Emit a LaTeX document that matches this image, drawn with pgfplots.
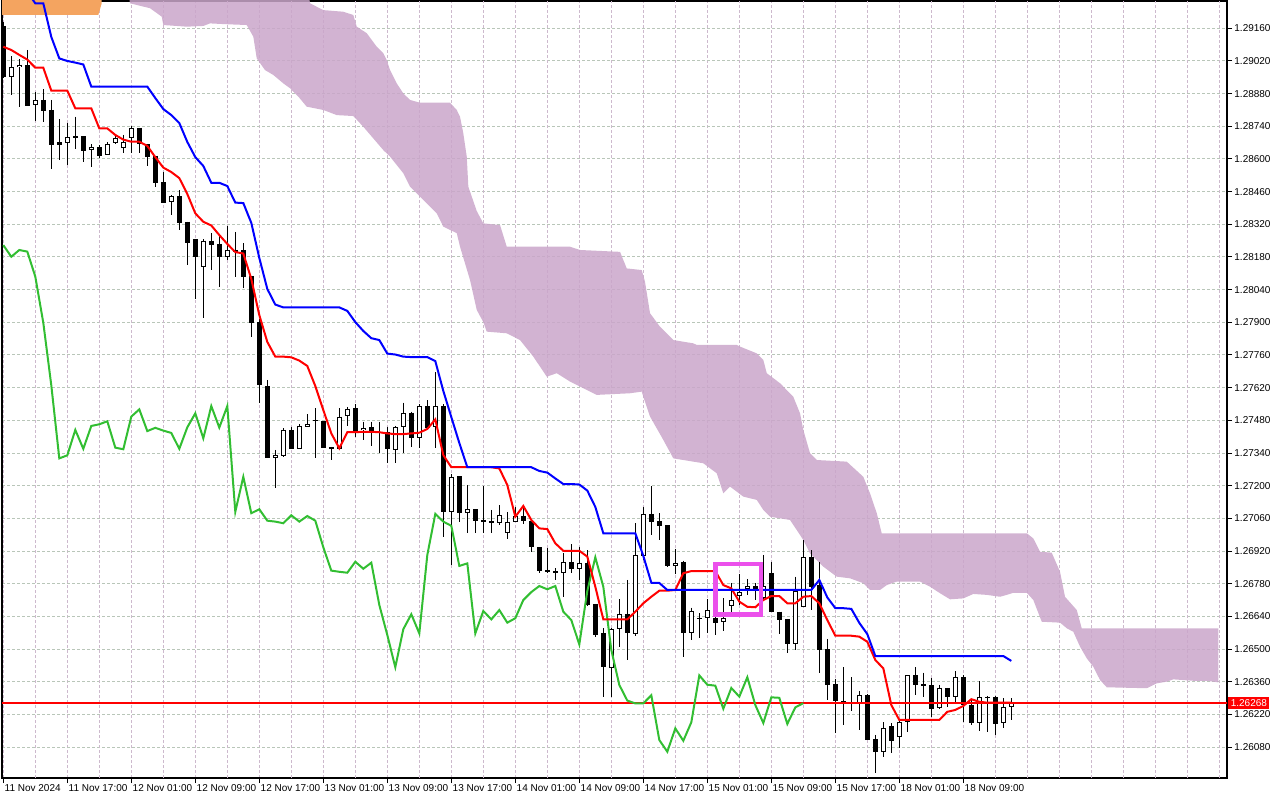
\documentclass[border=0pt]{standalone}
\usepackage{pgfplots}
\pgfplotsset{compat=1.18}
\usepackage{pgfplotstable}
\usepackage{fontspec}
\setmainfont{Liberation Sans}
\newcommand\tickfont{\fontsize{5}{6}\selectfont}
\definecolor{cloudc}{RGB}{202,166,202}
\definecolor{orangec}{RGB}{244,164,96}
\definecolor{ichired}{RGB}{255,0,0}
\definecolor{ichiblue}{RGB}{0,0,255}
\definecolor{ichigreen}{RGB}{50,190,50}
\definecolor{boxmag}{RGB}{235,80,235}
\definecolor{gridh}{RGB}{185,198,185}
\definecolor{gridv}{RGB}{205,185,205}

% bullish (white) candles: bar index, open, high, low, close
\pgfplotstableread{
k o h l c
1 1.28950 1.29041 1.28874 1.28993
2 1.28993 1.29027 1.28824 1.29003
4 1.28830 1.28886 1.28764 1.28853
7 1.28663 1.28771 1.28596 1.28671
8 1.28670 1.28755 1.28574 1.28693
11 1.28637 1.28664 1.28567 1.28650
13 1.28616 1.28673 1.28616 1.28663
14 1.28667 1.28703 1.28664 1.28691
15 1.28646 1.28703 1.28627 1.28674
16 1.28689 1.28741 1.28627 1.28731
21 1.28414 1.28446 1.28360 1.28441
25 1.28138 1.28256 1.27920 1.28250
28 1.28181 1.28313 1.28167 1.28210
34 1.27320 1.27353 1.27189 1.27330
35 1.27328 1.27446 1.27324 1.27439
37 1.27358 1.27464 1.27356 1.27456
38 1.27453 1.27506 1.27453 1.27463
42 1.27358 1.27532 1.27358 1.27496
43 1.27499 1.27538 1.27457 1.27527
45 1.27439 1.27474 1.27396 1.27448
49 1.27353 1.27456 1.27296 1.27450
50 1.27453 1.27556 1.27339 1.27510
52 1.27403 1.27550 1.27360 1.27541
54 1.27453 1.27687 1.27360 1.27541
56 1.27088 1.27250 1.26860 1.27238
58 1.27082 1.27203 1.26996 1.27099
62 1.27039 1.27117 1.27031 1.27073
63 1.26996 1.27088 1.26970 1.27046
64 1.27046 1.27110 1.27046 1.27070
70 1.26827 1.26910 1.26724 1.26874
72 1.26844 1.26938 1.26796 1.26870
76 1.26417 1.26589 1.26296 1.26585
77 1.26585 1.26713 1.26507 1.26649
79 1.26564 1.27039 1.26556 1.26903
80 1.26900 1.27110 1.26882 1.27079
84 1.26857 1.26929 1.26822 1.26867
86 1.26567 1.26677 1.26539 1.26663
88 1.26632 1.26713 1.26567 1.26667
90 1.26615 1.26717 1.26577 1.26632
91 1.26684 1.26783 1.26650 1.26710
92 1.26727 1.26822 1.26689 1.26744
93 1.26756 1.26799 1.26732 1.26770
95 1.26719 1.26903 1.26710 1.26770
99 1.26520 1.26810 1.26496 1.26749
100 1.26681 1.26967 1.26681 1.26893
107 1.26267 1.26320 1.26153 1.26302
110 1.26060 1.26186 1.26036 1.26160
112 1.26124 1.26199 1.26077 1.26186
113 1.26186 1.26387 1.26146 1.26387
117 1.26246 1.26346 1.26242 1.26333
119 1.26296 1.26405 1.26274 1.26379
122 1.26182 1.26362 1.26149 1.26293
125 1.26182 1.26289 1.26160 1.26250
126 1.26250 1.26289 1.26196 1.26268
}\bull

% bearish (black) candles
\pgfplotstableread{
k o h l c
0 1.29170 1.29187 1.28947 1.28951
3 1.29001 1.29067 1.28828 1.28828
5 1.28853 1.28899 1.28760 1.28807
6 1.28810 1.28853 1.28556 1.28661
9 1.28698 1.28781 1.28643 1.28691
10 1.28698 1.28698 1.28588 1.28635
12 1.28651 1.28659 1.28605 1.28613
17 1.28733 1.28733 1.28627 1.28664
18 1.28664 1.28664 1.28571 1.28610
19 1.28614 1.28614 1.28479 1.28498
20 1.28501 1.28545 1.28410 1.28410
22 1.28441 1.28467 1.28296 1.28327
23 1.28331 1.28331 1.28146 1.28239
24 1.28257 1.28257 1.28000 1.28179
26 1.28250 1.28282 1.28124 1.28231
27 1.28236 1.28274 1.28050 1.28181
29 1.28210 1.28288 1.28096 1.28203
30 1.28210 1.28239 1.28046 1.28096
31 1.28099 1.28099 1.27836 1.27898
32 1.27900 1.27914 1.27553 1.27630
33 1.27627 1.27653 1.27317 1.27317
36 1.27439 1.27453 1.27356 1.27358
39 1.27481 1.27532 1.27320 1.27476
40 1.27478 1.27478 1.27363 1.27363
41 1.27366 1.27366 1.27309 1.27356
44 1.27532 1.27550 1.27410 1.27434
46 1.27450 1.27474 1.27370 1.27436
47 1.27430 1.27474 1.27341 1.27426
48 1.27429 1.27453 1.27296 1.27358
51 1.27513 1.27517 1.27367 1.27403
53 1.27541 1.27567 1.27439 1.27449
55 1.27541 1.27550 1.26981 1.27088
57 1.27241 1.27241 1.27046 1.27082
59 1.27099 1.27099 1.26996 1.27050
60 1.27053 1.27199 1.26996 1.27046
61 1.27047 1.27096 1.26998 1.27039
65 1.27070 1.27110 1.27036 1.27050
66 1.27050 1.27050 1.26917 1.26936
67 1.26936 1.26936 1.26827 1.26836
68 1.26839 1.26932 1.26827 1.26831
69 1.26833 1.26846 1.26796 1.26827
71 1.26873 1.26949 1.26827 1.26844
73 1.26870 1.26924 1.26686 1.26689
74 1.26693 1.26693 1.26553 1.26560
75 1.26567 1.26589 1.26296 1.26422
78 1.26649 1.26796 1.26453 1.26567
81 1.27079 1.27199 1.26989 1.27046
82 1.27049 1.27082 1.26967 1.27028
83 1.27031 1.27031 1.26850 1.26856
85 1.26874 1.26879 1.26467 1.26567
87 1.26633 1.26653 1.26549 1.26627
89 1.26632 1.26653 1.26560 1.26613
94 1.26770 1.26782 1.26710 1.26756
96 1.26825 1.26874 1.26660 1.26660
97 1.26660 1.26660 1.26564 1.26624
98 1.26629 1.26629 1.26484 1.26520
101 1.26893 1.26924 1.26667 1.26767
102 1.26774 1.26874 1.26399 1.26496
103 1.26500 1.26543 1.26282 1.26346
104 1.26349 1.26372 1.26141 1.26279
105 1.26276 1.26422 1.26176 1.26267
106 1.26273 1.26379 1.26236 1.26267
108 1.26302 1.26306 1.26110 1.26110
109 1.26114 1.26132 1.25967 1.26060
111 1.26170 1.26182 1.26053 1.26107
114 1.26387 1.26422 1.26303 1.26347
115 1.26350 1.26399 1.26296 1.26343
116 1.26345 1.26375 1.26210 1.26244
118 1.26333 1.26333 1.26250 1.26296
120 1.26379 1.26389 1.26186 1.26260
121 1.26260 1.26282 1.26174 1.26183
123 1.26296 1.26299 1.26146 1.26291
124 1.26293 1.26299 1.26132 1.26179
}\bear

\pgfplotsset{candlebar/.style={draw=none, no markers, forget plot,
  error bars/.cd, y dir=minus, y explicit, error mark=none}}

\begin{document}
\begin{tikzpicture}
\useasboundingbox (-1pt,-11pt) rectangle (639pt,389pt);
\begin{axis}[
  at={(0pt,0pt)}, anchor=south west,
  scale only axis, width=612.5pt, height=388.5pt,
  xmin=-0.1625, xmax=152.96, ymin=1.259473, ymax=1.29277,
  axis line style={black, line width=0.6pt},
  tick align=outside, xtick pos=bottom, ytick pos=right, yticklabel pos=right,
  major tick length=2.5pt, minor tick length=0pt,
  every tick/.style={black, line width=0.5pt},
  xtick={0,8,16,24,32,40,48,56,64,72,80,88,96,104,112,120},
  xticklabels={11 Nov 2024, 11 Nov 17:00, 12 Nov 01:00, 12 Nov 09:00, 12 Nov 17:00, 13 Nov 01:00, 13 Nov 09:00, 13 Nov 17:00, 14 Nov 01:00, 14 Nov 09:00, 14 Nov 17:00, 15 Nov 01:00, 15 Nov 09:00, 15 Nov 17:00, 18 Nov 01:00, 18 Nov 09:00},
  extra x ticks={4,12,20,28,36,44,52,60,68,76,84,92,100,108,116,124,128,132,136,140,144,148,152},
  extra x tick labels={},
  extra x tick style={grid=major, major tick length=0pt},
  ytick={1.2608,1.2622,1.2636,1.2650,1.2664,1.2678,1.2692,1.2706,1.2720,1.2734,1.2748,1.2762,1.2776,1.2790,1.2804,1.2818,1.2832,1.2846,1.2860,1.2874,1.2888,1.2902,1.2916},
  yticklabels={1.26080,1.26220,1.26360,1.26500,1.26640,1.26780,1.26920,1.27060,1.27200,1.27340,1.27480,1.27620,1.27760,1.27900,1.28040,1.28180,1.28320,1.28460,1.28600,1.28740,1.28880,1.29020,1.29160},
  grid=major,
  x grid style={gridv, line width=0.5pt, dash pattern=on 1.5pt off 1pt},
  y grid style={gridh, line width=0.5pt, dash pattern=on 1.5pt off 1pt},
  xticklabel style={font=\tickfont, anchor=north west, inner sep=0pt, xshift=0.5pt, yshift=-0.5pt},
  yticklabel style={font=\tickfont, anchor=west, inner sep=0pt, xshift=1pt},
  scaled y ticks=false,
]
% Kumo (cloud)
\addplot[draw=none, fill=cloudc, fill opacity=0.85, forget plot] coordinates {
(15.59,1.29324)(38.09,1.29324)(38.34,1.29267)(40.0,1.29238)(42.5,1.29231)(43.75,1.29217)(44.18,1.29167)(45.43,1.29139)(46.68,1.29081)(47.5,1.29053)(47.93,1.29024)(48.34,1.28981)(49.18,1.28924)(50.0,1.28881)(50.84,1.28853)(52.09,1.28841)(55.84,1.28841)(56.68,1.28810)(57.09,1.28781)(57.5,1.28710)(57.93,1.28610)(58.13,1.28481)(59.18,1.28377)(60.0,1.28324)(62.09,1.28317)(62.93,1.28224)(70.84,1.28224)(72.09,1.28210)(77.09,1.28202)(77.93,1.28131)(79.8,1.28124)(80.21,1.28074)(80.84,1.27939)(82.09,1.27881)(83.75,1.27824)(86.25,1.27810)(86.68,1.27803)(91.68,1.27803)(92.09,1.27796)(94.18,1.27767)(95.0,1.27739)(95.43,1.27682)(97.09,1.27639)(98.75,1.27581)(99.59,1.27510)(100.0,1.27439)(100.84,1.27339)(101.68,1.27310)(105.43,1.27303)(107.5,1.27238)(108.34,1.27167)(109.18,1.27082)(109.8,1.26996)(127.93,1.26996)(128.75,1.26974)(129.59,1.26917)(131.05,1.26913)(132.09,1.26831)(132.71,1.26724)(134.18,1.26667)(134.8,1.26589)(151.88,1.26589)
(151.88,1.26357)(150.43,1.26364)(148.75,1.26364)(146.25,1.26370)(145.43,1.26360)(144.18,1.26353)(142.93,1.26332)(137.93,1.26336)(137.09,1.26367)(136.25,1.26424)(135.43,1.26460)(134.59,1.26510)(133.75,1.26574)(132.93,1.26589)(132.09,1.26613)(129.8,1.26617)(128.75,1.26710)(127.93,1.26741)(126.25,1.26741)(125.43,1.26732)(124.59,1.26724)(122.93,1.26732)(121.25,1.26736)(120.0,1.26717)(118.34,1.26713)(117.09,1.26739)(115.84,1.26767)(114.59,1.26789)(111.68,1.26789)(110.43,1.26774)(109.59,1.26753)(108.34,1.26753)(107.5,1.26782)(105.84,1.26803)(104.18,1.26810)(102.5,1.26853)(100.84,1.26910)(100.0,1.26967)(99.18,1.27010)(98.34,1.27053)(95.84,1.27067)(95.0,1.27096)(94.18,1.27139)(92.5,1.27153)(90.84,1.27196)(90.0,1.27167)(89.18,1.27253)(87.5,1.27296)(83.75,1.27317)(82.5,1.27396)(80.84,1.27496)(80.0,1.27581)(79.8,1.27603)(78.34,1.27596)(74.18,1.27589)(73.34,1.27603)(70.84,1.27646)(69.18,1.27682)(67.93,1.27667)(66.25,1.27753)(64.59,1.27824)(62.93,1.27853)(60.43,1.27860)(60.0,1.27901)(59.18,1.27953)(58.34,1.28081)(57.09,1.28224)(56.68,1.28282)(55.0,1.28310)(54.18,1.28367)(52.5,1.28424)(50.84,1.28481)(50.0,1.28539)(48.34,1.28610)(47.5,1.28638)(45.0,1.28738)(43.75,1.28784)(41.68,1.28788)(40.0,1.28810)(37.93,1.28824)(36.88,1.28867)(35.84,1.28903)(35.0,1.28924)(33.75,1.28960)(32.71,1.28981)(31.68,1.29031)(31.25,1.29124)(30.43,1.29174)(27.5,1.29178)(25.84,1.29181)(25.0,1.29170)(22.93,1.29167)(20.0,1.29174)(19.8,1.29210)(18.34,1.29246)(15.84,1.29267)
};
\addplot[draw=none, fill=orangec, forget plot] coordinates {(-1,1.29324)(-1,1.29217)(11.875,1.29217)(12.3,1.29267)(12.3,1.29324)};
% wicks
\addplot[candlebar, error bar style={draw=black, line width=0.5pt}]
  table[x=k, y=h, y error minus expr={\thisrow{h}-\thisrow{l}}] {\bear};
\addplot[candlebar, error bar style={draw=black, line width=0.5pt}]
  table[x=k, y=h, y error minus expr={\thisrow{h}-\thisrow{l}}] {\bull};
% bodies
\addplot[candlebar, error bar style={draw=black, line width=2.5pt}]
  table[x=k, y=o, y error minus expr={max(\thisrow{o}-\thisrow{c},0.00004)}] {\bear};
\addplot[candlebar, error bar style={draw=black, line width=2.5pt}]
  table[x=k, y=c, y error minus expr={max(\thisrow{c}-\thisrow{o},0.00009)}] {\bull};
\addplot[candlebar, error bar style={draw=white, line width=1.5pt}]
  table[x=k, y expr={\thisrow{c}-0.0000429}, y error minus expr={max(\thisrow{c}-\thisrow{o}-0.0000858,0)}] {\bull};
% current price line
\addplot[draw=ichired, line width=0.7pt, forget plot] coordinates {(-1,1.26268)(160,1.26268)};
% Chikou span
\addplot[ichigreen, line width=1pt, forget plot] coordinates {
(0,1.28231)(1,1.28181)(2,1.28210)(3,1.28203)(4,1.28096)(5,1.27898)(6,1.27630)(7,1.27317)(8,1.27330)(9,1.27439)(10,1.27358)(11,1.27456)(12,1.27463)(13,1.27476)(14,1.27363)(15,1.27356)(16,1.27496)(17,1.27527)(18,1.27434)(19,1.27448)(20,1.27436)(21,1.27426)(22,1.27358)(23,1.27450)(24,1.27510)(25,1.27403)(26,1.27541)(27,1.27449)(28,1.27541)(29,1.27088)(30,1.27238)(31,1.27082)(32,1.27099)(33,1.27050)(34,1.27046)(35,1.27039)(36,1.27073)(37,1.27046)(38,1.27070)(39,1.27050)(40,1.26936)(41,1.26836)(42,1.26831)(43,1.26827)(44,1.26874)(45,1.26844)(46,1.26870)(47,1.26689)(48,1.26560)(49,1.26422)(50,1.26585)(51,1.26649)(52,1.26567)(53,1.26903)(54,1.27079)(55,1.27046)(56,1.27028)(57,1.26856)(58,1.26867)(59,1.26567)(60,1.26663)(61,1.26627)(62,1.26667)(63,1.26613)(64,1.26632)(65,1.26710)(66,1.26744)(67,1.26770)(68,1.26756)(69,1.26770)(70,1.26660)(71,1.26624)(72,1.26520)(73,1.26749)(74,1.26893)(75,1.26767)(76,1.26496)(77,1.26346)(78,1.26279)(79,1.26267)(80,1.26267)(81,1.26302)(82,1.26110)(83,1.26060)(84,1.26160)(85,1.26107)(86,1.26186)(87,1.26387)(88,1.26347)(89,1.26343)(90,1.26244)(91,1.26333)(92,1.26296)(93,1.26379)(94,1.26260)(95,1.26183)(96,1.26293)(97,1.26291)(98,1.26179)(99,1.26250)(100,1.26268)};
% Tenkan-sen
\addplot[ichired, line width=1pt, forget plot] coordinates {
(0,1.29081)(1,1.29067)(2,1.29046)(3,1.29026)(4,1.28991)(5,1.28991)(6,1.28893)(7,1.28893)(8,1.28893)(9,1.28817)(10,1.28817)(11,1.28817)(12,1.28731)(13,1.28731)(14,1.28703)(15,1.28683)(16,1.28674)(17,1.28674)(18,1.28656)(19,1.28608)(20,1.28563)(21,1.28544)(22,1.28518)(23,1.28450)(24,1.28367)(25,1.28331)(26,1.28315)(27,1.28274)(28,1.28236)(29,1.28201)(30,1.28195)(31,1.28086)(32,1.27931)(33,1.27816)(34,1.27753)(35,1.27753)(36,1.27750)(37,1.27736)(38,1.27713)(39,1.27627)(40,1.27524)(41,1.27424)(42,1.27360)(43,1.27429)(44,1.27429)(45,1.27431)(46,1.27431)(47,1.27429)(48,1.27424)(49,1.27421)(50,1.27421)(51,1.27424)(52,1.27427)(53,1.27443)(54,1.27484)(55,1.27331)(56,1.27279)(57,1.27279)(58,1.27279)(59,1.27279)(60,1.27279)(61,1.27279)(62,1.27274)(63,1.27203)(64,1.27067)(65,1.27113)(66,1.27053)(67,1.27017)(68,1.27014)(69,1.26953)(70,1.26921)(71,1.26921)(72,1.26921)(73,1.26896)(74,1.26767)(75,1.26627)(76,1.26627)(77,1.26627)(78,1.26627)(79,1.26660)(80,1.26696)(81,1.26724)(82,1.26750)(83,1.26750)(84,1.26753)(85,1.26825)(86,1.26834)(87,1.26834)(88,1.26834)(89,1.26834)(90,1.26774)(91,1.26760)(92,1.26703)(93,1.26681)(94,1.26679)(95,1.26710)(96,1.26727)(97,1.26727)(98,1.26696)(99,1.26696)(100,1.26724)(101,1.26727)(102,1.26696)(103,1.26624)(104,1.26557)(105,1.26557)(106,1.26557)(107,1.26553)(108,1.26531)(109,1.26453)(110,1.26417)(111,1.26260)(112,1.26196)(113,1.26196)(114,1.26196)(115,1.26196)(116,1.26196)(117,1.26196)(118,1.26231)(119,1.26239)(120,1.26256)(121,1.26285)(122,1.26274)(123,1.26270)(124,1.26270)(125,1.26270)(126,1.26270)};
% Kijun-sen
\addplot[ichiblue, line width=1pt, forget plot] coordinates {
(0,1.29316)(1,1.29316)(2,1.29316)(3,1.29316)(4,1.29267)(5,1.29267)(6,1.29123)(7,1.29031)(8,1.29020)(9,1.29013)(10,1.29005)(11,1.28910)(12,1.28910)(13,1.28910)(14,1.28910)(15,1.28910)(16,1.28910)(17,1.28910)(18,1.28910)(19,1.28861)(20,1.28814)(21,1.28788)(22,1.28754)(23,1.28673)(24,1.28608)(25,1.28570)(26,1.28498)(27,1.28498)(28,1.28484)(29,1.28413)(30,1.28411)(31,1.28326)(32,1.28176)(33,1.28043)(34,1.27976)(35,1.27964)(36,1.27964)(37,1.27964)(38,1.27964)(39,1.27964)(40,1.27964)(41,1.27964)(42,1.27964)(43,1.27949)(44,1.27901)(45,1.27863)(46,1.27832)(47,1.27824)(48,1.27766)(49,1.27762)(50,1.27753)(51,1.27751)(52,1.27751)(53,1.27751)(54,1.27734)(55,1.27606)(56,1.27494)(57,1.27383)(58,1.27279)(59,1.27279)(60,1.27279)(61,1.27279)(62,1.27279)(63,1.27279)(64,1.27279)(65,1.27279)(66,1.27279)(67,1.27263)(68,1.27256)(69,1.27231)(70,1.27207)(71,1.27207)(72,1.27205)(73,1.27179)(74,1.27109)(75,1.26996)(76,1.26996)(77,1.26996)(78,1.26996)(79,1.26996)(80,1.26899)(81,1.26784)(82,1.26783)(83,1.26753)(84,1.26753)(85,1.26753)(86,1.26753)(87,1.26753)(88,1.26753)(89,1.26753)(90,1.26753)(91,1.26753)(92,1.26753)(93,1.26753)(94,1.26753)(95,1.26753)(96,1.26753)(97,1.26753)(98,1.26753)(99,1.26753)(100,1.26753)(101,1.26753)(102,1.26796)(103,1.26721)(104,1.26675)(105,1.26675)(106,1.26672)(107,1.26612)(108,1.26564)(109,1.26470)(110,1.26470)(111,1.26470)(112,1.26470)(113,1.26470)(114,1.26470)(115,1.26470)(116,1.26470)(117,1.26470)(118,1.26470)(119,1.26470)(120,1.26470)(121,1.26470)(122,1.26470)(123,1.26470)(124,1.26470)(125,1.26470)(126,1.26449)};
% highlight rectangle
\addplot[boxmag, line width=2.35pt, line cap=rect, line join=miter, forget plot] coordinates {(89.05,1.26864)(94.71,1.26864)(94.71,1.26649)(89.05,1.26649)(89.05,1.26864)};
\coordinate (pricept) at (axis cs:152.96,1.26268);
\end{axis}
\node[fill=ichired, text=white, font=\tickfont, anchor=west, inner xsep=1.2pt, inner ysep=1.2pt, xshift=0.5pt] at (pricept) {1.26268};
\end{tikzpicture}
\end{document}
